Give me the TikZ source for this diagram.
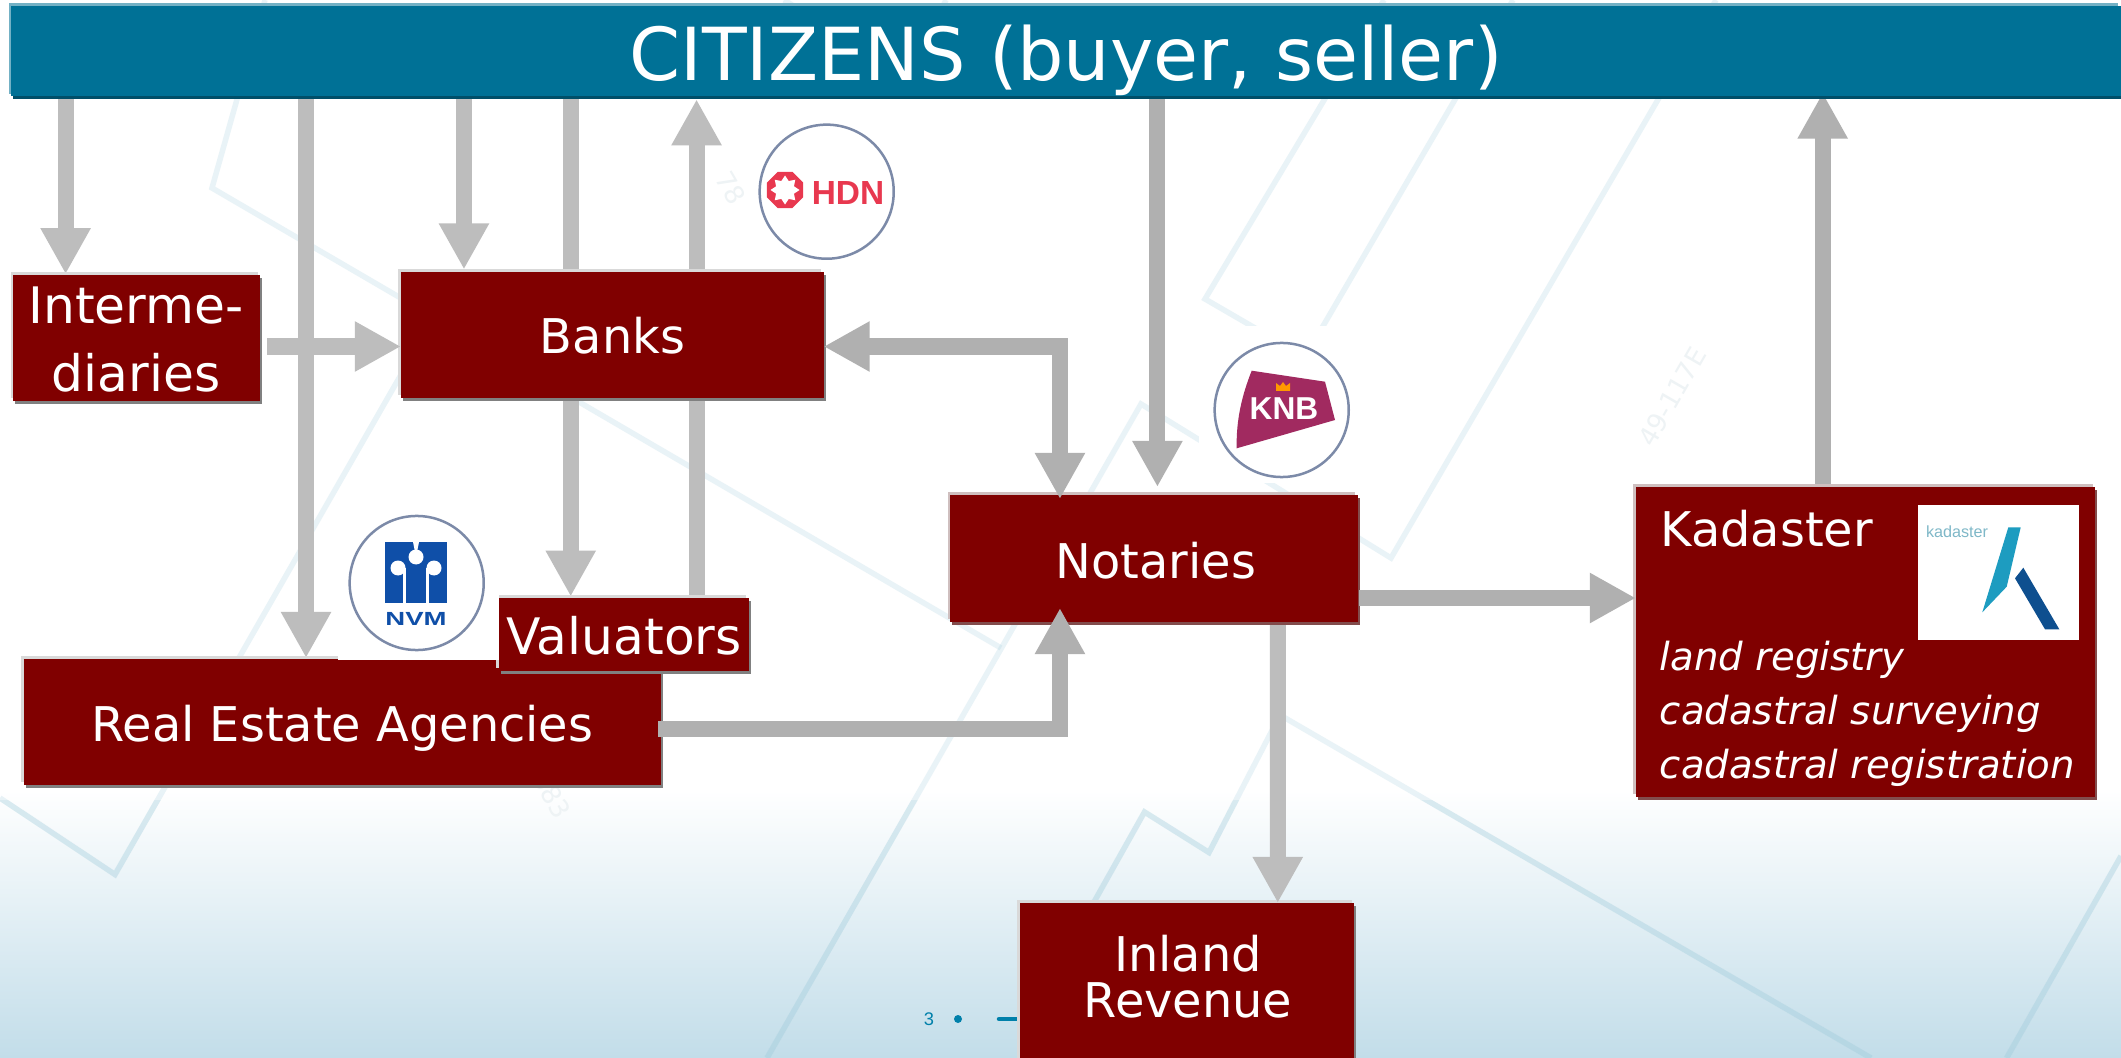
\documentclass[tikz,border=0pt]{standalone}
\usepackage{fontspec}
\setmainfont{DejaVu Sans}
\newfontfamily\logofont{Liberation Sans}
\usetikzlibrary{arrows.meta,shadows,shapes.geometric,calc}
\definecolor{bred}{HTML}{800000}
\definecolor{cblue}{HTML}{007196}
\definecolor{gA}{HTML}{BDBDBD}
\definecolor{gB}{HTML}{B0B0B0}
\definecolor{paleline}{HTML}{9ECBDB}
\definecolor{bottomblue}{HTML}{C2DDE9}
\definecolor{ringc}{HTML}{7C8AA8}
\definecolor{pagec}{HTML}{0080AA}
\definecolor{hdnc}{HTML}{E8384F}
\definecolor{knbc}{HTML}{A12A60}
\definecolor{nvmc}{HTML}{0F4FA8}
\definecolor{kadL}{HTML}{1D9CC0}
\definecolor{kadD}{HTML}{0E4F8F}
\definecolor{kadT}{HTML}{7FB8C8}
\definecolor{faint}{HTML}{EEF3F5}
\pgfdeclarelayer{ground}
\pgfdeclarelayer{under}
\pgfsetlayers{ground,under,main}
\newcommand{\parcelpaths}[1]{%
\draw[#1] (265,0) -- (212,188) -- (1001,648);
\draw[#1] (0,798) -- (115,874.5) -- (434,317);
\draw[#1] (767,1058) -- (1141,404) -- (1391,558) -- (1716,0);
\draw[#1] (1384,0) -- (1205,299) -- (1305,357) -- (1513,0);
\draw[#1] (1020,1058) -- (1094,902) -- (1144.5,812) -- (1209,852.5) -- (1280,715) -- (1871,1058);
\draw[#1] (2121,856) -- (2006.6,1058);
\draw[#1] (784,0) -- (800,10);
\draw[#1] (946,0) -- (943,6);
}
\tikzset{
  x=0.01cm,y=-0.01cm,
  boxx/.style 2 args={fill=bred,draw=none,inner sep=0pt,outer sep=0pt,
    general shadow={fill=#2,shadow xshift=.02cm,shadow yshift=-.03cm},
    general shadow={fill=#1,shadow xshift=-.025cm,shadow yshift=.027cm}},
  greybox/.style={boxx={black!15}{black!50}},
  pinkbox/.style={boxx={red!25!black!25!white}{red!30!black!70}},
  txt/.style={text=white,font=\fontsize{13.6pt}{16pt}\selectfont,anchor=base,inner sep=0pt},
  txtbig/.style={txt,font=\fontsize{14.3pt}{16pt}\selectfont},
  txtl/.style={txt,anchor=base west},
  ital/.style={text=white,font=\fontsize{11pt}{14pt}\selectfont\itshape,anchor=base west,inner sep=0pt},
  arrA/.style={draw=gA,line width=.16cm,-{Triangle[width=.47cm,length=.46cm]},color=gA},
  arrB/.style={draw=gB,line width=.16cm,-{Triangle[width=.47cm,length=.46cm]},color=gB},
  arrBB/.style={draw=gB,line width=.16cm,{Triangle[width=.47cm,length=.46cm]}-{Triangle[width=.47cm,length=.46cm]},color=gB},
  parcel/.style={draw=paleline,draw opacity=.22,line width=.055cm,line join=miter},
  parcelb/.style={draw=paleline,draw opacity=.2,line width=.055cm,line join=miter},
  ring/.style={circle,draw=ringc,line width=.025cm,fill=white,minimum size=1.34cm,inner sep=0pt},
  logotxt/.style={anchor=base,inner sep=0pt},
  fainttxt/.style={text=faint,font=\fontsize{7.4pt}{9pt}\selectfont,inner sep=0pt},
}
\begin{document}
\begin{tikzpicture}
\useasboundingbox (0,0) rectangle (2121,1058);
\begin{pgfonlayer}{ground}
% background
\fill[white] (0,0) rectangle (2121,790);
\shade[top color=white,bottom color=bottomblue] (0,790) rectangle (2121,1058);
% parcel lines, a little stronger over the blue part
\parcelpaths{parcel}
\begin{scope}
\clip (0,800) rectangle (2121,1058);
\parcelpaths{parcelb}
\end{scope}
% faint map numbers
\node[fainttxt,rotate=-60] (fa) at (731,188) {78};
\node[fainttxt,rotate=60] (fb) at (1672,397) {49-117E};
\node[fainttxt,rotate=-60] (fc) at (552,795) {683};
% page number
\node[text=pagec,font=\logofont\fontsize{5.2pt}{6pt}\selectfont,inner sep=0pt] (pnum) at (929,1019) {3};
\fill[pagec] (958,1019) circle (4);
\draw[pagec,line width=.045cm,line cap=round] (999,1019) -- (1025,1019);
\end{pgfonlayer}
% boxes
\node[boxx={cblue!55!white}{cblue!70!black},fill=cblue,minimum width=21.08cm,minimum height=.903cm] (citizens) at (1066,51.15) {};
\node[greybox,minimum width=2.465cm,minimum height=1.256cm] (inter) at (136.75,338) {};
\node[greybox,minimum width=4.225cm,minimum height=1.26cm] (banks) at (612.25,335) {};
\node[greybox,minimum width=6.373cm,minimum height=1.26cm] (real) at (342.35,722) {};
\node[greybox,minimum width=2.495cm,minimum height=.73cm] (valu) at (623.75,634.5) {};
\node[pinkbox,minimum width=4.069cm,minimum height=1.27cm] (notaries) at (1154,558.5) {};
\node[pinkbox,minimum width=4.59cm,minimum height=3.10cm] (kad) at (1865.5,642) {};
\node[greybox,minimum width=3.344cm,minimum height=2.07cm] (inland) at (1186.8,1006.5) {};
% texts
\node[text=white,font=\fontsize{20.8pt}{25pt}\selectfont,anchor=base,inner sep=0pt] (tcit) at (1066,81) {CITIZENS (buyer, seller)};
\node[txtbig] (tint1) at (136,324) {Interme-};
\node[txtbig] (tint2) at (136,392) {diaries};
\node[txt] (tbank) at (612.5,354) {Banks};
\node[txtbig] (tval) at (624,654.8) {Valuators};
\node[txt] (treal) at (342.5,741.6) {Real Estate Agencies};
\node[txt] (tnot) at (1156,578.7) {Notaries};
\node[txt] (tin1) at (1188,971.5) {Inland};
\node[txt] (tin2) at (1188,1017.5) {Revenue};
\node[txtl] (tkad) at (1660,546.6) {Kadaster};
\node[ital] (tk1) at (1659,670) {land registry};
\node[ital] (tk2) at (1659,724) {cadastral surveying};
\node[ital] (tk3) at (1659,778) {cadastral registration};
% logo halos and logos
\begin{pgfonlayer}{ground}
\fill[white] (747,113) rectangle (905,268);
\fill[white] (1199,326) rectangle (1358,483);
\end{pgfonlayer}
\fill[white] (338,505) rectangle (499,660);
\node[ring] (hdn) at (826.7,191.7) {};
\node[regular polygon,regular polygon sides=8,fill=hdnc,minimum size=.39cm,inner sep=0pt] (hdnA) at (785,190) {};
\node[star,star points=8,star point ratio=1.5,fill=white,minimum size=.29cm,inner sep=0pt] (hdnB) at (785,190) {};
\node[logotxt,text=hdnc,font=\logofont\bfseries\fontsize{9.5pt}{11pt}\selectfont] (hdnT) at (848,205) {HDN};
\node[ring] (knb) at (1281.7,410) {};
\fill[knbc] (1251.7,370.7) -- (1325,381.7) -- (1335,420) -- (1236.7,448.3) .. controls (1236,420) and (1242,395) .. (1251.7,370.7) -- cycle;
\fill[orange!80!yellow] (1276,391) -- (1276,383) -- (1280,386) -- (1283,382) -- (1286,386) -- (1290,383) -- (1290,391) -- cycle;
\node[logotxt,text=white,font=\logofont\bfseries\fontsize{9pt}{11pt}\selectfont] (knbT) at (1284,420) {KNB};
\node[ring] (nvm) at (416.7,583) {};
\fill[nvmc] (385,542) rectangle (446.7,603);
\fill[white] (413,542) -- (419,542) -- (417,552) -- (415,552) -- cycle;
\fill[white] (416,557) circle (7.5);
\fill[white] (398,568) circle (7.5);
\fill[white] (434,568) circle (7.5);
\fill[white] (403,568) rectangle (406,603);
\fill[white] (426,568) rectangle (429,603);
\node[logotxt,text=nvmc,font=\logofont\bfseries\fontsize{5.4pt}{6pt}\selectfont,xscale=1.45] (nvmT) at (416,625) {NVM};
\fill[white] (1917.7,505) rectangle (2079,640);
\node[logotxt,text=kadT,font=\logofont\fontsize{4.6pt}{5pt}\selectfont] (kadTx) at (1957,537.7) {kadaster};
\fill[kadL] (2008.3,527.3) -- (2020.7,527.3) -- (2006.7,586.7) -- (1982.3,612.3) -- cycle;
\fill[kadD] (2023.3,567.7) -- (2015,578.3) -- (2045,629.3) -- (2059.3,629.3) -- cycle;
% connectors behind the boxes
\begin{pgfonlayer}{under}
\coordinate (p1) at ([xshift=-.711cm,yshift=.01cm]inter.north);
\draw[arrA] (citizens.south -| p1) -- (p1);
\coordinate (p2) at ([xshift=-.363cm,yshift=.01cm]real.north);
\draw[arrA] (citizens.south -| p2) -- (p2);
\coordinate (p3) at ([xshift=-1.482cm,yshift=.025cm]banks.north);
\draw[arrA] (citizens.south -| p3) -- (p3);
\coordinate (p4) at ([xshift=-.53cm,yshift=.014cm]valu.north);
\draw[arrA] (citizens.south -| p4) -- (p4);
\coordinate (p5) at ([xshift=.7275cm]valu.north);
\draw[arrA] (p5) -- ([yshift=-.03cm]citizens.south -| p5);
\coordinate (p6) at ([xshift=.034cm,yshift=.08cm]notaries.north);
\draw[arrB] (citizens.south -| p6) -- (p6);
\coordinate (k1) at ([xshift=-.428cm,yshift=.03cm]kad.north);
\draw[arrB] (k1) -- ([yshift=.037cm]citizens.south -| k1);
\end{pgfonlayer}
% connectors over the boxes
\coordinate (i1) at ([xshift=.07cm,yshift=-.085cm]inter.east);
\draw[arrA] (i1) -- (banks.west |- i1);
\coordinate (b1) at ([yshift=-.115cm]banks.east);
\coordinate (n1) at ([xshift=-.94cm,yshift=-.04cm]notaries.north);
\draw[arrBB] (b1) -| (n1);
\coordinate (r1) at ([xshift=-.03cm,yshift=-.065cm]real.east);
\coordinate (n2) at ([xshift=-.94cm,yshift=.14cm]notaries.south);
\draw[arrB] (r1) -| (n2);
\coordinate (n3) at ([xshift=.015cm,yshift=-.395cm]notaries.east);
\draw[arrB] (n3) -- (kad.west |- n3);
\coordinate (n4) at ([xshift=1.237cm,yshift=-.03cm]notaries.south);
\coordinate (n5) at ([xshift=.909cm]inland.north);
\draw[arrA] (n4) -- (n5);
\end{tikzpicture}
\end{document}
